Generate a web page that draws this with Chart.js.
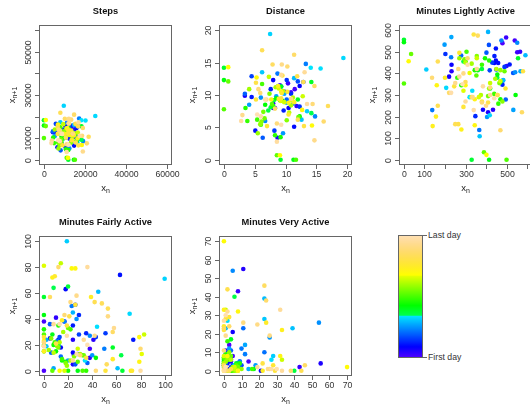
<!DOCTYPE html>
<html lang="en">
<head>
<meta charset="UTF-8">
<title>Lag plots</title>
<script src="https://cdn.jsdelivr.net/npm/chart.js"></script>
<style>
  html, body { margin: 0; padding: 0; background: #fff; overflow: hidden; }
  body { width: 530px; height: 405px; position: relative; font-family: "Liberation Sans", Arial, sans-serif; }
  .panel { position: absolute; width: 180px; height: 210px; }
  #bar { position: absolute; left: 398px; top: 235px; width: 25px; height: 123px; border: 1px solid #666; box-sizing: border-box; }
  .tag { position: absolute; left: 428px; font-size: 8.7px; color: #333; line-height: 10px; white-space: nowrap; }
  .dash { position: absolute; left: 422px; width: 5px; height: 1px; background: #666; }
</style>
</head>
<body>
<canvas id="steps" class="panel" width="180" height="210" style="left:0px;top:0px"></canvas>
<canvas id="distance" class="panel" width="180" height="210" style="left:180px;top:0px"></canvas>
<canvas id="lightly" class="panel" width="180" height="210" style="left:360px;top:0px"></canvas>
<canvas id="fairly" class="panel" width="180" height="210" style="left:0px;top:211px"></canvas>
<canvas id="very" class="panel" width="180" height="210" style="left:180px;top:211px"></canvas>

<div id="bar"></div>
<div class="dash" style="top:235px"></div>
<div class="dash" style="top:357px"></div>
<div class="tag" style="top:230px">Last day</div>
<div class="tag" style="top:352px">First day</div>

<script>
// daily values, one per day (first day first)
var distance = [
    9.1, 11.5, 10.9, 10.4, 11.8, 8.3, 8.0, 8.0, 8.7, 3.4,
    9.9, 10.5, 8.0, 12.3, 11.4, 5.1, 4.5, 9.7, 7.6, 10.9,
    10.2, 12.3, 8.2, 4.5, 12.9, 12.0, 12.1, 6.3, 3.4, 10.2,
    9.3, 11.3, 8.7, 13.3, 14.8, 6.7, 6.0, 9.6, 4.1, 8.5,
    9.8, 10.2, 8.8, 11.4, 12.6, 6.2, 13.5, 7.5, 19.4, 15.7,
    14.1, 14.2, 7.2, 7.6, 8.1, 9.2, 0, 14.2, 12.0, 9.3,
    11.3, 0, 12.3, 6.7, 8.5, 9.5, 9.1, 9.2, 3.5, 8.0,
    8.3, 3.8, 6.0, 5.4, 6.2, 11.7, 0, 7.8, 8.6, 0.7,
    12.1, 6.6, 6.4, 7.4, 10.2, 6.1, 5.9, 5.5, 4.1, 10.9,
    8.4, 11.2, 9.6, 10.6, 7.3, 12.8, 9.8, 8.9, 11.0, 9.2,
    9.1, 0.7, 14.3, 5.3, 12.7, 7.7, 9.3, 10.5, 8.8, 11.4,
    8.9, 9.4, 10.3, 10.5, 7.0, 5.2, 9.3, 9.5, 13.0, 5.2,
    11.9, 12.9, 12.0, 6.2, 16.9, 8.3, 7.9, 14.7, 11.4, 16.2,
    5.9, 10.3, 14.4, 8.6, 5.6, 10.9, 9.4, 14.7, 3.0, 6.9,
    9.3, 13.1, 13.5, 8.6, 2.8, 6.0, 6.7, 9.3, 5.4, 7.0
];
var steps = [
    11740, 14840, 14060, 13420, 15220, 10710, 10320, 10280, 11220, 4390,
    12770, 13550, 10350, 15870, 14710, 6580, 5810, 12510, 9800, 14060,
    13160, 15900, 10580, 5790, 16640, 15480, 15610, 8130, 4380, 13160,
    12000, 14580, 11220, 17160, 19090, 8640, 7740, 12380, 5290, 10970,
    12640, 13150, 11350, 14700, 16250, 8000, 17420, 9680, 25030, 20250,
    18190, 18320, 9290, 9800, 10450, 11870, 0, 18300, 15480, 11990,
    14580, 0, 15870, 8640, 10960, 12260, 11740, 11870, 4520, 10320,
    10710, 4900, 7740, 6970, 8000, 15090, 0, 10060, 11090, 900,
    15610, 8510, 8260, 9550, 13160, 7870, 7610, 7100, 5290, 14060,
    10840, 14450, 12380, 13670, 9420, 16510, 12640, 11480, 14190, 11870,
    11740, 900, 18450, 6840, 16380, 9930, 12000, 13540, 11350, 14710,
    11480, 12130, 13290, 13550, 9030, 6710, 12000, 12250, 16770, 6700,
    15350, 16640, 15480, 8000, 21800, 10710, 10190, 18960, 14710, 20900,
    7610, 13290, 18580, 11090, 7220, 14060, 12130, 18960, 3870, 8900,
    12000, 16900, 17420, 11090, 3610, 7740, 8640, 12000, 6970, 9030
];
var lightly = [
    480, 540, 552, 498, 566, 500, 434, 232, 410, 220,
    385, 232, 440, 448, 459, 448, 515, 441, 480, 348,
    202, 490, 430, 450, 418, 414, 532, 402, 496, 279,
    483, 367, 138, 230, 475, 552, 542, 405, 198, 533,
    231, 568, 410, 592, 484, 369, 109, 418, 206, 333,
    320, 290, 455, 380, 420, 330, 0, 556, 470, 360,
    415, 0, 544, 300, 455, 395, 470, 280, 345, 415,
    460, 260, 380, 440, 305, 500, 0, 353, 390, 35,
    490, 410, 295, 465, 355, 480, 270, 470, 415, 330,
    445, 375, 300, 450, 420, 355, 470, 365, 290, 320,
    402, 23, 456, 300, 345, 160, 345, 280, 140, 156,
    200, 380, 270, 495, 330, 290, 245, 340, 580, 410,
    265, 165, 250, 165, 455, 300, 360, 575, 220, 310,
    470, 137, 380, 265, 420, 335, 290, 400, 250, 355,
    420, 300, 270, 385, 340, 230, 310, 440, 285, 350
];
var fairly = [
    0, 0, 38, 17, 38, 10, 41, 24, 24, 5,
    25, 12, 24, 14, 18, 63, 74, 24, 35, 29,
    43, 26, 51, 29, 28, 13, 26, 5, 36, 6,
    14, 11, 23, 50, 17, 38, 27, 40, 12, 20,
    8, 2, 24, 45, 61, 2, 19, 100, 71, 44,
    34, 8, 64, 12, 20, 65, 0, 57, 18, 7,
    28, 0, 43, 10, 15, 8, 20, 0, 32, 12,
    35, 0, 15, 9, 22, 32, 0, 28, 7, 0,
    20, 33, 12, 18, 6, 25, 11, 19, 4, 16,
    30, 13, 22, 8, 14, 83, 28, 17, 0, 81,
    13, 0, 23, 79, 26, 79, 7, 72, 0, 15,
    39, 57, 9, 73, 0, 26, 51, 0, 19, 35,
    10, 21, 42, 53, 48, 52, 5, 57, 30, 12,
    80, 17, 43, 0, 22, 53, 42, 27, 58, 33,
    24, 8, 36, 80, 0, 19, 27, 13, 36, 20
];
var very = [
    3, 14, 5, 8, 43, 2, 1, 11, 55, 4,
    5, 21, 0, 3, 7, 2, 4, 6, 1, 9,
    5, 3, 8, 4, 2, 10, 3, 6, 1, 4,
    11, 23, 10, 12, 9, 5, 54, 26, 18, 3,
    12, 14, 1, 23, 39, 23, 28, 8, 2, 27,
    6, 3, 6, 40, 0, 4, 0, 7, 4, 17,
    1, 0, 6, 2, 8, 3, 0, 5, 1, 9,
    4, 0, 2, 16, 1, 5, 0, 7, 3, 0,
    4, 8, 2, 6, 0, 3, 10, 1, 5, 2,
    7, 0, 4, 6, 1, 33, 6, 2, 0, 8,
    0, 0, 70, 2, 8, 32, 8, 0, 33, 22,
    0, 24, 26, 1, 28, 3, 29, 0, 22, 4,
    1, 2, 44, 0, 3, 0, 23, 46, 3, 24,
    38, 0, 1, 0, 11, 26, 19, 25, 1, 19,
    2, 32, 33, 0, 0, 27, 1, 30, 1, 2
];

// axis ticks and the ones that get a label
var stepsTicks = [0, 10000, 20000, 30000, 40000, 50000, 60000];
var stepsXLabels = [0, 20000, 40000, 60000];
var stepsYLabels = [0, 10000, 30000, 50000];
var distanceTicks = [0, 5, 10, 15, 20];
var lightlyTicks = [0, 100, 200, 300, 400, 500, 600];
var lightlyXLabels = [0, 100, 300, 500];
var fairlyTicks = [0, 20, 40, 60, 80, 100];
var veryTicks = [0, 10, 20, 30, 40, 50, 60, 70];

// R topo.colors()
function hsv(h, s, v) {
    var i = Math.floor(h * 6), f = h * 6 - i;
    var p = v * (1 - s), q = v * (1 - f * s), t = v * (1 - (1 - f) * s);
    var rgb = [[v, t, p], [q, v, p], [p, v, t], [p, q, v], [t, p, v], [v, p, q]][i % 6];
    return 'rgb(' + rgb.map(function (c) { return Math.round(c * 255); }).join(',') + ')';
}
function seq(a, b, n) {
    var out = [];
    for (var i = 0; i < n; i++) out.push(n == 1 ? a : a + (b - a) * i / (n - 1));
    return out;
}
function topoColors(n) {
    var j = Math.floor(n / 3), k = Math.floor(n / 3), i = n - j - k;
    var cols = [];
    seq(43 / 60, 31 / 60, i).forEach(function (h) { cols.push(hsv(h, 1, 1)); });
    seq(23 / 60, 11 / 60, j).forEach(function (h) { cols.push(hsv(h, 1, 1)); });
    var ss = seq(1, 0.3, k);
    seq(10 / 60, 6 / 60, k).forEach(function (h, m) { cols.push(hsv(h, ss[m], 1)); });
    return cols;
}

var dayColors = topoColors(distance.length - 1);
document.getElementById('bar').style.background = 'linear-gradient(to top,' + dayColors.join(',') + ')';

var panels = {
    steps:    { title: 'Steps', series: steps, xlim: [0, 60000], ylim: [0, 60000], xTicks: stepsTicks.filter(function (v) { return v % 20000 == 0; }), yTicks: stepsTicks, xShow: stepsXLabels, yShow: stepsYLabels },
    distance: { title: 'Distance', series: distance, xlim: [0, 20], ylim: [0, 20], xTicks: distanceTicks, yTicks: distanceTicks, xShow: distanceTicks, yShow: distanceTicks },
    lightly:  { title: 'Minutes Lightly Active', series: lightly, xlim: [0, 600], ylim: [0, 600], xTicks: lightlyTicks, yTicks: lightlyTicks, xShow: lightlyXLabels, yShow: lightlyTicks },
    fairly:   { title: 'Minutes Fairly Active', series: fairly, xlim: [0, 102], ylim: [0, 100], xTicks: fairlyTicks, yTicks: fairlyTicks, xShow: fairlyTicks, yShow: fairlyTicks },
    very:     { title: 'Minutes Very Active', series: very, xlim: [0, 70], ylim: [0, 70], xTicks: veryTicks, yTicks: veryTicks, xShow: veryTicks, yShow: veryTicks }
};

function subLabel(ctx, x, y, base, sub) {
    ctx.font = '9.5px "Liberation Sans"';
    var wb = ctx.measureText(base).width;
    ctx.font = '7px "Liberation Sans"';
    var ws = ctx.measureText(sub).width;
    var left = x - (wb + ws) / 2;
    ctx.textAlign = 'left';
    ctx.font = '9.5px "Liberation Sans"';
    ctx.fillText(base, left, y);
    ctx.font = '7px "Liberation Sans"';
    ctx.fillText(sub, left + wb, y + 3);
}

// box, ticks, labels and titles in the R base-graphics look
var lagAxes = {
    id: 'lagAxes',
    afterDraw: function (chart) {
        var p = panels[chart.canvas.id];
        var ctx = chart.ctx, a = chart.chartArea;
        var sx = chart.scales.x, sy = chart.scales.y;
        ctx.save();
        ctx.strokeStyle = '#666';
        ctx.lineWidth = 1;
        ctx.strokeRect(a.left + 0.5, a.top + 0.5, a.right - a.left - 1, a.bottom - a.top - 1);

        ctx.fillStyle = '#333';
        ctx.textBaseline = 'middle';
        p.xTicks.forEach(function (v) {
            var x = Math.round(sx.getPixelForValue(v)) + 0.5;
            ctx.beginPath(); ctx.moveTo(x, a.bottom); ctx.lineTo(x, a.bottom + 4); ctx.stroke();
            if (p.xShow.indexOf(v) >= 0) {
                ctx.font = '8.7px "Liberation Sans"';
                ctx.textAlign = 'center';
                ctx.fillText(String(v), x, a.bottom + 10);
            }
        });
        p.yTicks.forEach(function (v) {
            var y = Math.round(sy.getPixelForValue(v)) + 0.5;
            ctx.beginPath(); ctx.moveTo(a.left - 4, y); ctx.lineTo(a.left, y); ctx.stroke();
            if (p.yShow.indexOf(v) >= 0) {
                ctx.save();
                ctx.translate(a.left - 10, y);
                ctx.rotate(-Math.PI / 2);
                ctx.font = '8.7px "Liberation Sans"';
                ctx.textAlign = 'center';
                ctx.fillText(String(v), 0, 0);
                ctx.restore();
            }
        });

        ctx.fillStyle = '#222';
        subLabel(ctx, (a.left + a.right) / 2, a.bottom + 23, 'x', 'n');
        ctx.save();
        ctx.translate(a.left - 27, (a.top + a.bottom) / 2);
        ctx.rotate(-Math.PI / 2);
        subLabel(ctx, 0, 0, 'x', 'n+1');
        ctx.restore();

        ctx.fillStyle = '#111';
        ctx.font = 'bold 9.3px "Liberation Sans"';
        ctx.textAlign = 'center';
        ctx.fillText(p.title, (a.left + a.right) / 2, a.top - 14);
        ctx.restore();
    }
};

function lagPoints(series) {
    var pts = [];
    for (var i = 0; i < series.length - 1; i++) {
        pts.push({ x: series[i], y: series[i + 1] });
    }
    return pts;
}

function pad(lim) {
    var d = (lim[1] - lim[0]) * 0.04;
    return { min: lim[0] - d, max: lim[1] + d };
}

Object.keys(panels).forEach(function (id) {
    var p = panels[id];
    var xr = pad(p.xlim), yr = pad(p.ylim);
    new Chart(document.getElementById(id), {
        type: 'scatter',
        data: {
            datasets: [{
                data: lagPoints(p.series),
                pointBackgroundColor: dayColors,
                pointBorderWidth: 0,
                pointRadius: 2.3,
                pointHoverRadius: 2.3
            }]
        },
        options: {
            responsive: false,
            animation: false,
            devicePixelRatio: 1,
            events: [],
            layout: { padding: { left: 39, top: 25, right: 8, bottom: 45 } },
            plugins: { legend: { display: false }, tooltip: { enabled: false } },
            scales: {
                x: { type: 'linear', display: false, min: xr.min, max: xr.max },
                y: { type: 'linear', display: false, min: yr.min, max: yr.max }
            }
        },
        plugins: [lagAxes]
    });
});
</script>
</body>
</html>
